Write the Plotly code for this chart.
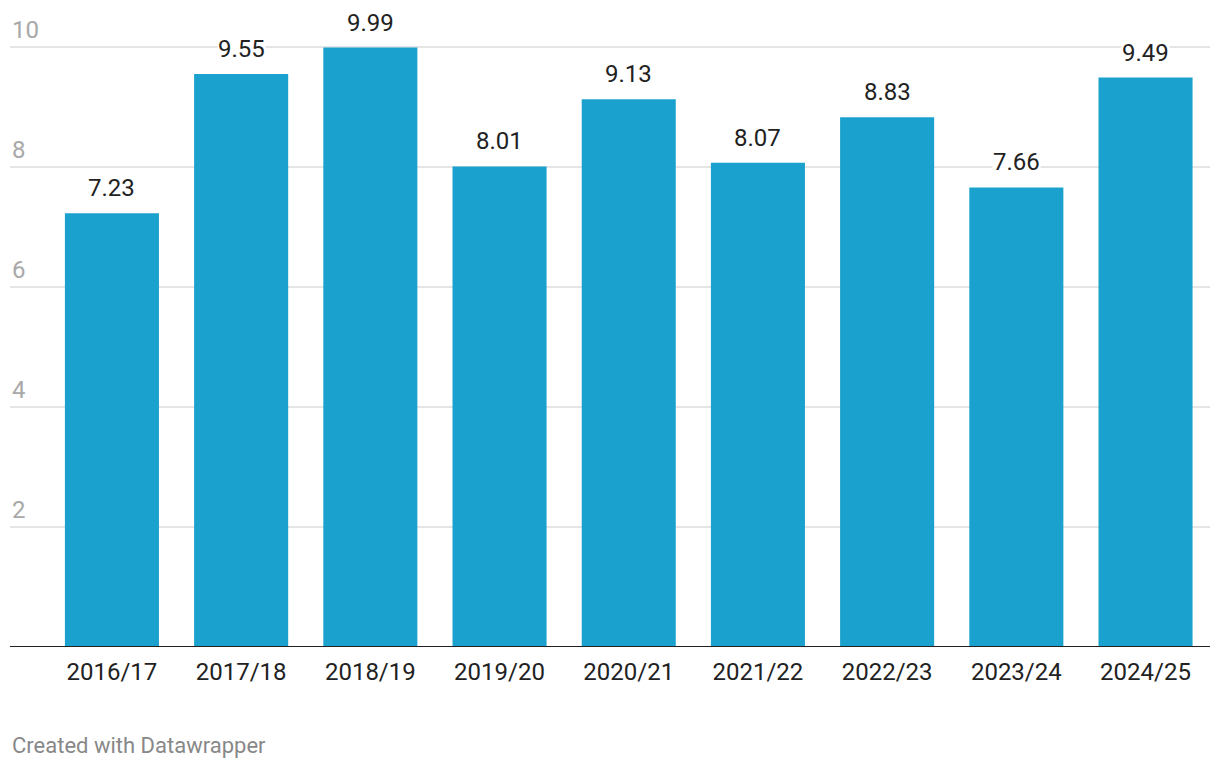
import plotly.graph_objects as go

seasons = ["2016/17", "2017/18", "2018/19", "2019/20", "2020/21",
           "2021/22", "2022/23", "2023/24", "2024/25"]
values = [7.23, 9.55, 9.99, 8.01, 9.13, 8.07, 8.83, 7.66, 9.49]
y_ticks = [2, 4, 6, 8, 10]

bar_color = "#1aa1cd"

fig = go.Figure()
fig.add_trace(go.Bar(
    x=seasons,
    y=values,
    marker=dict(color=bar_color, line=dict(width=0)),
    width=0.728,
    hoverinfo="skip",
))

# value labels above each bar (white box hides grid lines behind them)
for s, v in zip(seasons, values):
    fig.add_annotation(x=s, y=v, text=f"{v:.2f}", showarrow=False,
                       yanchor="middle", yshift=25, bgcolor="white",
                       borderpad=0,
                       font=dict(family="Roboto", size=24, color="#222222"))

# y tick labels sit above grid lines, left-aligned
for t in y_ticks:
    fig.add_annotation(x=0, xref="paper", y=t, text=str(t), showarrow=False,
                       xanchor="left", yanchor="middle", yshift=17,
                       font=dict(family="Roboto", size=24, color="#a8a8a8"))

# baseline
fig.add_shape(type="line", xref="paper", yref="y", x0=0, x1=1, y0=0, y1=0,
              line=dict(color="#222222", width=2))

fig.add_annotation(text="Created with Datawrapper", xref="paper", yref="paper",
                   x=0, y=-0.157, xanchor="left", yanchor="middle", showarrow=False,
                   font=dict(family="Roboto", size=22, color="#888888"))

# page has an 8px body margin, so the figure is shrunk/shifted to compensate
fig.update_layout(
    width=1212,
    height=760,
    margin=dict(l=2, r=10, t=12, b=121),
    paper_bgcolor="white",
    plot_bgcolor="white",
    showlegend=False,
    font=dict(family="Roboto"),
)
fig.update_xaxes(
    type="category",
    range=[-0.789, 8.499],
    showgrid=False,
    showline=False,
    ticks="",
    ticklabelstandoff=8,
    tickfont=dict(family="Roboto", size=24, color="#222222"),
)
fig.update_yaxes(
    range=[0, 10.45],
    tickvals=y_ticks,
    showticklabels=False,
    showgrid=True,
    gridcolor="#e5e5e5",
    gridwidth=1.5,
    zeroline=False,
    showline=False,
)

fig.write_html("out.html")
